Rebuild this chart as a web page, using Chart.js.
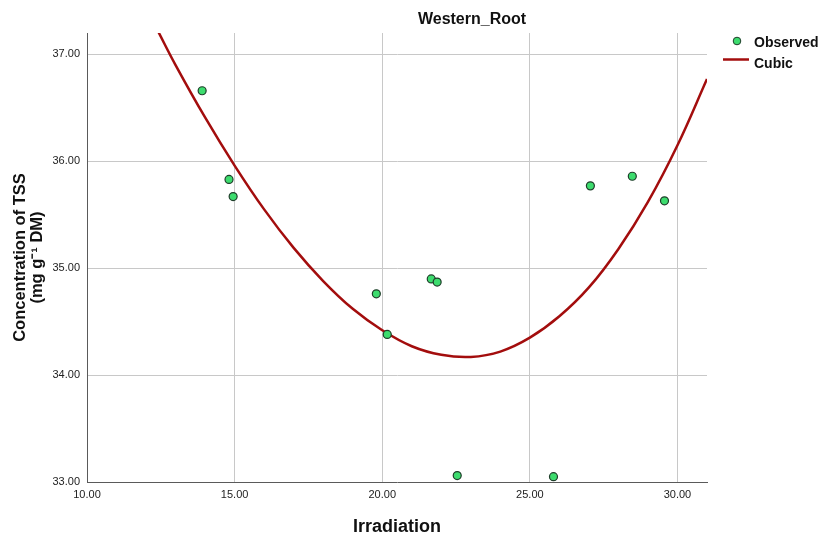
<!DOCTYPE html>
<html>
<head>
<meta charset="utf-8">
<script src="https://cdn.jsdelivr.net/npm/chart.js@4/dist/chart.umd.min.js"></script>
<style>
html,body{margin:0;padding:0;background:#fff;}
#wrap{width:819px;height:536px;position:relative;}
</style>
</head>
<body>
<div id="wrap"><canvas id="c" width="819" height="536"></canvas></div>
<script>
const obsX = [13.90, 14.81, 14.95, 19.80, 20.17, 21.66, 21.86, 22.54, 25.80, 27.05, 28.47, 29.56];
const obsY = [36.66, 35.83, 35.67, 34.76, 34.38, 34.90, 34.87, 33.06, 33.05, 35.77, 35.86, 35.63];
// Cubic fit curve
const fitX = [12.4, 13, 14, 15, 16, 17, 18, 19, 20, 21, 22, 23, 24, 25, 26, 27, 28, 29, 30, 31];
const fitY = [37.22, 36.90, 36.41, 35.96, 35.55, 35.19, 34.88, 34.62, 34.42, 34.27, 34.19, 34.17, 34.22, 34.35, 34.55, 34.82, 35.18, 35.62, 36.15, 36.77];
const xTicks = [10, 15, 20, 25, 30];
const yTicks = [33, 34, 35, 36, 37];
const chartTitle = "Western_Root";
const xTitle = "Irradiation";
const yTitle1 = "Concentration of TSS";
const yTitle2 = "(mg g\u207B\u00B9 DM)";
const legendLabels = ["Observed", "Cubic"];

const FONT = "'Liberation Sans', Arial, sans-serif";
const pointFill = "#3ddc6e";
const pointEdge = "#1f3d2a";
const lineColor = "#a30d0d";

const decor = {
  id: 'decor',
  afterDraw(chart) {
    const ctx = chart.ctx;
    const a = chart.chartArea;
    ctx.save();
    ctx.fillStyle = "#111";
    ctx.textAlign = "center";
    ctx.textBaseline = "middle";
    ctx.font = "bold 16px " + FONT;
    ctx.fillText(chartTitle, 472, 20);
    ctx.font = "bold 18px " + FONT;
    ctx.fillText(xTitle, (a.left + a.right) / 2, 527);
    const cy = (a.top + a.bottom) / 2;
    ctx.save();
    ctx.translate(20, cy);
    ctx.rotate(-Math.PI / 2);
    ctx.font = "bold 16.5px " + FONT;
    ctx.fillText(yTitle1, 0, 0);
    ctx.restore();
    ctx.save();
    ctx.translate(37, cy);
    ctx.rotate(-Math.PI / 2);
    ctx.font = "bold 16.5px " + FONT;
    ctx.fillText(yTitle2, 0, 0);
    ctx.restore();
    // legend
    ctx.beginPath();
    ctx.arc(737, 41, 3.8, 0, Math.PI * 2);
    ctx.fillStyle = pointFill;
    ctx.fill();
    ctx.lineWidth = 1;
    ctx.strokeStyle = pointEdge;
    ctx.stroke();
    ctx.beginPath();
    ctx.moveTo(723, 59.5);
    ctx.lineTo(749, 59.5);
    ctx.lineWidth = 2.5;
    ctx.strokeStyle = lineColor;
    ctx.stroke();
    ctx.fillStyle = "#111";
    ctx.textAlign = "left";
    ctx.font = "bold 14px " + FONT;
    ctx.fillText(legendLabels[0], 754, 43);
    ctx.fillText(legendLabels[1], 754, 64);
    ctx.restore();
  }
};

new Chart(document.getElementById('c'), {
  type: 'scatter',
  data: {
    datasets: [
      {
        label: legendLabels[0],
        data: obsX.map((x, i) => ({x: x, y: obsY[i]})),
        backgroundColor: pointFill,
        borderColor: pointEdge,
        borderWidth: 1.2,
        pointRadius: 4,
        order: 0
      },
      {
        label: legendLabels[1],
        data: fitX.map((x, i) => ({x: x, y: fitY[i]})),
        showLine: true,
        borderColor: lineColor,
        borderWidth: 2.5,
        pointRadius: 0,
        tension: 0.4,
        fill: false,
        order: 1
      }
    ]
  },
  options: {
    responsive: false,
    animation: false,
    devicePixelRatio: 1,
    layout: { padding: { left: 0, right: 112, top: 33, bottom: 0 } },
    plugins: { legend: { display: false }, title: { display: false }, tooltip: { enabled: false } },
    scales: {
      x: {
        type: 'linear',
        min: 10, max: 31,
        afterBuildTicks: s => { s.ticks = xTicks.map(v => ({value: v})); },
        afterFit: s => { s.height = 54; },
        grid: {
          color: ctx => (ctx.tick && ctx.tick.value === 10) ? 'rgba(0,0,0,0)' : '#c8c8c8',
          lineWidth: 1,
          drawTicks: false,
          tickLength: 0
        },
        border: { display: true, color: '#5a5a5a', width: 1 },
        ticks: {
          padding: 6,
          color: '#222',
          font: { family: FONT, size: 11 },
          callback: v => Number(v).toFixed(2),
          maxRotation: 0
        }
      },
      y: {
        type: 'linear',
        min: 33, max: 37.2,
        afterBuildTicks: s => { s.ticks = yTicks.map(v => ({value: v})); },
        afterFit: s => { s.width = 87; },
        grid: {
          color: ctx => (ctx.tick && ctx.tick.value === 33) ? 'rgba(0,0,0,0)' : '#c8c8c8',
          lineWidth: 1,
          drawTicks: false,
          tickLength: 0
        },
        border: { display: true, color: '#5a5a5a', width: 1 },
        ticks: {
          padding: 7,
          color: '#222',
          font: { family: FONT, size: 11 },
          callback: v => Number(v).toFixed(2)
        }
      }
    }
  },
  plugins: [decor]
});
</script>
</body>
</html>
